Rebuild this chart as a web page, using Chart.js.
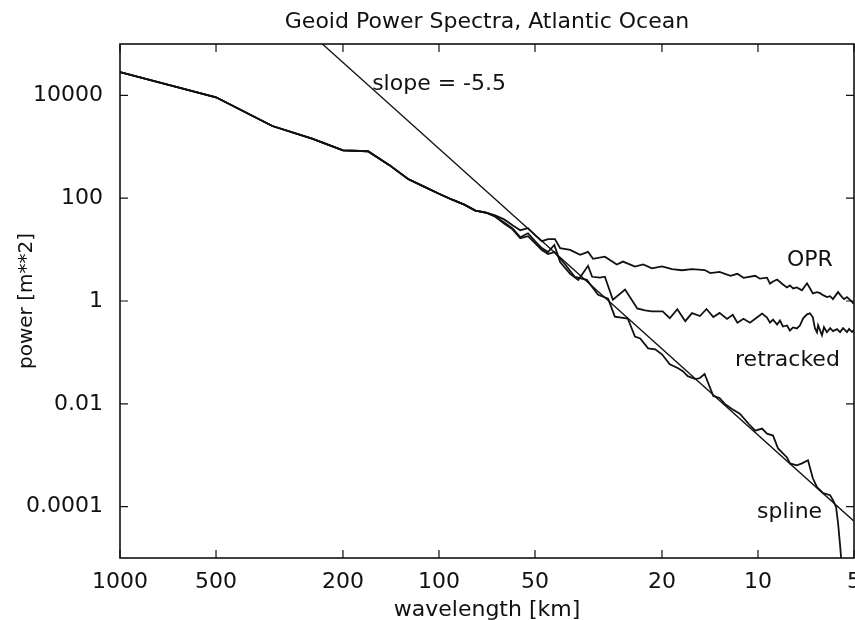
<!DOCTYPE html>
<html>
<head>
<meta charset="utf-8">
<title>Geoid Power Spectra, Atlantic Ocean</title>
<script src="https://cdn.jsdelivr.net/npm/chart.js"></script>
<style>
  html, body { margin: 0; padding: 0; background: #fff; }
  canvas { display: block; }
</style>
</head>
<body>
<canvas id="myChart" width="855" height="620"></canvas>
<script>
// datos (longitud de onda en km, potencia en m**2)

// tramo comun de las tres curvas (longitudes de onda largas)
const commonWavelength = [1000, 500, 333, 250, 200, 167, 143, 125, 111, 100, 90.9, 83.3, 76.9, 71.4];
const commonPower = [28500, 9200, 2540, 1440, 850, 820, 440, 236, 166, 122, 93.5, 74.8, 57.4, 52.7];

const oprWavelength = [66.7, 62.5, 58.8, 55.6, 52.6, 50, 47.6, 45.5, 43.3, 41.7, 38.8, 36.1, 34.1, 32.9, 30.2,
    27.7, 26.5, 24.3, 22.9, 21.5, 20.0, 18.6, 17.3, 16.1, 14.7, 14.1, 13.2, 12.2, 11.6, 11.1, 10.2, 9.86, 9.37,
    9.17, 8.97, 8.71, 8.35, 8.11, 7.94, 7.76, 7.55, 7.28, 7.02, 6.87, 6.73, 6.53, 6.39, 6.25, 6.08, 5.94, 5.82,
    5.61, 5.45, 5.37, 5.26, 5.07, 5.0];
const oprPower = [46.2, 38.7, 29.7, 23.8, 26.1, 19.1, 14.6, 16.0, 16.0, 10.7, 9.85, 7.89, 9.06, 6.62, 7.28,
    5.11, 5.85, 4.69, 5.14, 4.31, 4.73, 4.15, 3.97, 4.17, 4.0, 3.5, 3.68, 3.09, 3.38, 2.83, 3.1, 2.72, 2.85,
    2.18, 2.39, 2.62, 2.09, 1.83, 2.01, 1.76, 1.84, 1.61, 2.21, 1.77, 1.41, 1.48, 1.42, 1.30, 1.19, 1.24, 1.09,
    1.49, 1.19, 1.09, 1.19, 0.96, 0.87];

const retrackedWavelength = [66.7, 62.5, 58.8, 55.6, 52.6, 50, 47.6, 45.5, 43.5, 41.7, 38.8, 36.6, 34.1, 33.1,
    31.3, 30.2, 28.5, 26.1, 23.9, 22.6, 21.5, 19.9, 18.9, 17.9, 16.9, 16.1, 15.2, 14.5, 13.8, 13.2, 12.5, 12.0,
    11.6, 11.1, 10.6, 10.1, 9.71, 9.37, 9.17, 8.97, 8.71, 8.53, 8.35, 8.11, 7.94, 7.76, 7.55, 7.38, 7.22, 7.02,
    6.87, 6.73, 6.63, 6.53, 6.48, 6.30, 6.21, 6.08, 5.94, 5.82, 5.65, 5.53, 5.41, 5.26, 5.18, 5.07, 5.0];
const retrackedPower = [44.2, 33.8, 25.9, 17.4, 20.8, 14.6, 10.7, 8.94, 12.3, 5.74, 3.36, 2.57, 4.84, 2.96,
    2.84, 2.97, 1.06, 1.67, 0.715, 0.656, 0.628, 0.63, 0.462, 0.693, 0.405, 0.582, 0.51, 0.699, 0.489, 0.587,
    0.449, 0.538, 0.377, 0.451, 0.378, 0.474, 0.568, 0.475, 0.380, 0.435, 0.349, 0.417, 0.319, 0.334, 0.267,
    0.306, 0.293, 0.336, 0.459, 0.55, 0.576, 0.482, 0.295, 0.246, 0.338, 0.216, 0.309, 0.247, 0.296, 0.259,
    0.284, 0.248, 0.297, 0.249, 0.285, 0.249, 0.273];

const splineWavelength = [66.7, 62.5, 58.8, 55.6, 52.6, 50, 47.6, 45.5, 43.5, 40.3, 37.5, 34.4, 31.7, 29.5,
    28.1, 25.6, 24.3, 23.4, 22.1, 21.0, 20.0, 18.9, 17.8, 17.2, 16.6, 15.7, 15.2, 14.7, 13.8, 13.2, 12.7, 12.1,
    11.4, 10.7, 10.2, 9.71, 9.37, 8.97, 8.65, 8.11, 7.94, 7.55, 7.28, 6.97, 6.73, 6.53, 6.25, 5.94, 5.82, 5.69,
    5.61, 5.53, 5.45];
const splinePower = [44.2, 32.3, 24.8, 16.6, 18.2, 13.3, 9.77, 8.17, 8.97, 5.25, 2.94, 2.58, 1.32, 1.11,
    0.497, 0.456, 0.204, 0.187, 0.120, 0.115, 0.0918, 0.0588, 0.0493, 0.0431, 0.0345, 0.0303, 0.0317, 0.038,
    0.0142, 0.013, 0.00996, 0.00798, 0.0064, 0.00409, 0.0030, 0.00329, 0.00263, 0.00241, 0.00135, 0.000903,
    0.00069, 0.000633, 0.000693, 0.000795, 0.000356, 0.000238, 0.000182, 0.000167, 0.000133, 0.000098,
    0.000048, 0.000018, 0.000006];

// recta de referencia, pendiente -5.5
const slopeWavelength = [232, 5];
const slopePower = [1e5, 5.2e-5];

// marcas de los ejes
const xTicks = [1000, 500, 200, 100, 50, 20, 10, 5];
const xTickLabels = ['1000', '500', '200', '100', '50', '20', '10', '5'];
const yTicks = [1e4, 1e2, 1, 1e-2, 1e-4];
const yTickLabels = ['10000', '100', '1', '0.01', '0.0001'];

const curveLabels = ['slope = -5.5', 'OPR', 'retracked', 'spline'];

const FONT = "'DejaVu Sans', sans-serif";
const INK = '#111';

// arma los puntos {x, y} a partir de dos arrays
const toPoints = (wl, pw) => wl.map((w, i) => ({ x: w, y: pw[i] }));

const serie = (wl, pw, width) => ({
    data: toPoints(wl, pw),
    borderColor: INK,
    borderWidth: width,
    pointRadius: 0,
    tension: 0,
    fill: false
});

// marco, marcas hacia adentro, titulo y rotulos de las curvas
const marco = {
    id: 'marco',
    afterDraw(chart) {
        const { ctx, chartArea: a, scales } = chart;
        const xs = scales.x, ys = scales.y;
        ctx.save();
        ctx.strokeStyle = INK;
        ctx.lineWidth = 1.6;
        ctx.strokeRect(a.left, a.top, a.right - a.left, a.bottom - a.top);

        ctx.lineWidth = 1.2;
        ctx.beginPath();
        xTicks.forEach(v => {
            const px = xs.getPixelForValue(v);
            ctx.moveTo(px, a.bottom); ctx.lineTo(px, a.bottom - 8);
            ctx.moveTo(px, a.top); ctx.lineTo(px, a.top + 8);
        });
        yTicks.forEach(v => {
            const py = ys.getPixelForValue(v);
            ctx.moveTo(a.left, py); ctx.lineTo(a.left + 8, py);
            ctx.moveTo(a.right, py); ctx.lineTo(a.right - 8, py);
        });
        ctx.stroke();

        ctx.fillStyle = INK;
        ctx.font = '22px ' + FONT;
        ctx.textAlign = 'center';
        ctx.textBaseline = 'middle';
        ctx.fillText('Geoid Power Spectra, Atlantic Ocean', (a.left + a.right) / 2, 22);

        // rotulos ubicados en coordenadas de datos
        const pos = [[162, 1.66e4], [8.11, 6.3], [11.8, 0.071], [10.07, 7.85e-5]];
        ctx.textAlign = 'left';
        curveLabels.forEach((t, i) => {
            ctx.fillText(t, xs.getPixelForValue(pos[i][0]), ys.getPixelForValue(pos[i][1]));
        });
        ctx.restore();
    }
};

Chart.defaults.font.family = FONT;
Chart.defaults.color = INK;

const ctx = document.getElementById('myChart');
const myChart = new Chart(ctx, {
    type: 'line',
    data: {
        datasets: [
            serie(slopeWavelength, slopePower, 1.3),
            serie(commonWavelength.concat(oprWavelength), commonPower.concat(oprPower), 1.8),
            serie(commonWavelength.concat(retrackedWavelength), commonPower.concat(retrackedPower), 1.8),
            serie(commonWavelength.concat(splineWavelength), commonPower.concat(splinePower), 1.8)
        ]
    },
    options: {
        responsive: false,
        animation: false,
        devicePixelRatio: 1,
        layout: { padding: { top: 44, right: 1, left: 0, bottom: 0 } },
        plugins: {
            legend: { display: false },
            tooltip: { enabled: false }
        },
        scales: {
            x: {
                type: 'logarithmic',
                position: 'bottom',
                reverse: true,
                min: 5,
                max: 1000,
                grid: { display: false, drawTicks: false },
                border: { display: false },
                ticks: {
                    autoSkip: false,
                    maxRotation: 0,
                    padding: 11,
                    font: { size: 22 },
                    callback: v => xTickLabels[xTicks.indexOf(v)]
                },
                title: {
                    display: true,
                    text: 'wavelength [km]',
                    font: { size: 22, lineHeight: 1 },
                    padding: { top: 0, bottom: -1 }
                },
                afterBuildTicks: s => { s.ticks = xTicks.map(v => ({ value: v })); },
                afterFit: s => { s.height = 62; s.paddingLeft = 0; s.paddingRight = 0; }
            },
            y: {
                type: 'logarithmic',
                min: 1e-5,
                max: 1e5,
                grid: { display: false, drawTicks: false },
                border: { display: false },
                ticks: {
                    autoSkip: false,
                    padding: 17,
                    font: { size: 22 },
                    callback: v => yTickLabels[yTicks.indexOf(v)]
                },
                title: {
                    display: true,
                    text: 'power [m**2]',
                    font: { size: 20 },
                    padding: { top: 15, bottom: 0 }
                },
                afterBuildTicks: s => { s.ticks = yTicks.map(v => ({ value: v })); },
                afterFit: s => { s.width = 120; s.paddingTop = 0; s.paddingBottom = 0; }
            }
        }
    },
    plugins: [marco]
});
</script>
</body>
</html>
